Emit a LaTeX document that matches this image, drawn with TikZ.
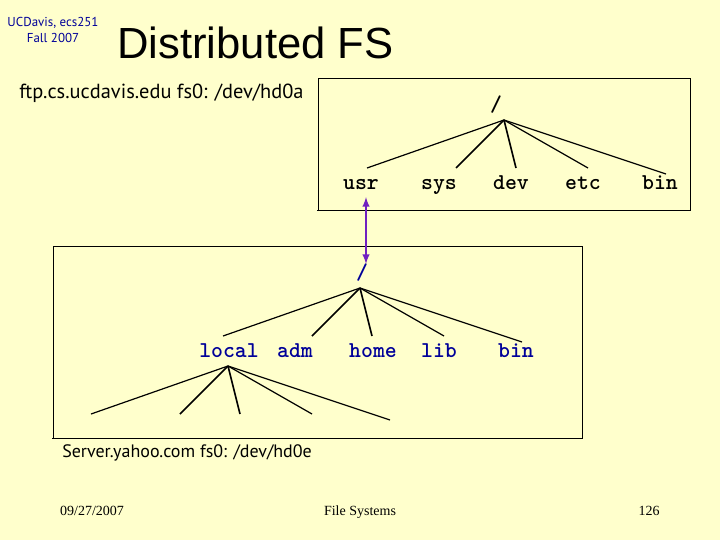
\documentclass[tikz,border=0pt]{standalone}
\usepackage{fontspec}
\setmainfont{Liberation Serif}
\setsansfont{Liberation Sans}
\newfontfamily\handfont{PT Sans}
\definecolor{slidebg}{RGB}{255,255,204}
\definecolor{navy}{RGB}{0,0,153}
\definecolor{linkpurple}{RGB}{112,32,192}
\tikzset{
    label/.style={inner sep=0pt, anchor=base, font=\fontsize{17}{17}\ttfamily\bfseries},
    branch/.style={black, line width=.9pt},
    heavy/.style={black, line width=1.2pt},
    fsbox/.style={black, line width=.6pt},
    footer/.style={inner sep=0pt, anchor=base, font=\fontsize{10.5}{10.5}\selectfont},
}
\begin{document}
\begin{tikzpicture}[>=latex, x=.75pt, y=-.75pt]
    \fill [slidebg] (0,0) rectangle (720,540);
    \useasboundingbox (0,0) rectangle (720,540);
    \node (course) [inner sep=0pt, navy, align=center, font=\fontsize{9.7}{11.5}\handfont] at (53,30) {UCDavis, ecs251\\Fall 2007};
    \node (title) [inner sep=0pt, anchor=west, font=\fontsize{32.7}{32.7}\sffamily] at (117,43) {Distributed FS};
    \node (ftp) [inner sep=0pt, anchor=base west, font=\fontsize{15.3}{15.3}\handfont] at (19,98) {ftp.cs.ucdavis.edu fs0: /dev/hd0a};
    \node (server) [inner sep=0pt, anchor=base west, font=\fontsize{13.5}{13.5}\handfont] at (62,457) {Server.yahoo.com fs0: /dev/hd0e};
    % upper file system
    \draw [fsbox] (318,210) -- (318,78) -- (690,78) -- (690,210) -- (317,210);
    \node (rootA) [label] at (496,111) {/};
    \coordinate (apexA) at (504,120);
    \node (usr) [label] at (361,189) {usr};
    \node (sys) [label] at (439,189) {sys};
    \node (dev) [label] at (511,189) {dev};
    \node (etc) [label] at (583,189) {etc};
    \node (binA) [label] at (660,189) {bin};
    \draw [branch] (apexA) -- (367,168);
    \draw [heavy] (apexA) -- (456,168);
    \draw [heavy] (apexA) -- (516,168);
    \draw [branch] (apexA) -- (588,168);
    \draw [branch] (apexA) -- (666,174);
    % lower file system
    \draw [fsbox] (53,438) -- (53,246) -- (582,246) -- (582,438) -- (52,438);
    \node (rootB) [label, navy] at (362,279) {/};
    \coordinate (apexB) at (360,288);
    \node (local) [label, navy] at (229,357) {local};
    \node (adm) [label, navy] at (295,357) {adm};
    \node (home) [label, navy] at (373,357) {home};
    \node (lib) [label, navy] at (439,357) {lib};
    \node (binB) [label, navy] at (516,357) {bin};
    \draw [branch] (apexB) -- (223,336);
    \draw [heavy] (apexB) -- (312,336);
    \draw [heavy] (apexB) -- (372,336);
    \draw [branch] (apexB) -- (444,336);
    \draw [branch] (apexB) -- (522,342);
    \coordinate (apexC) at (228,366);
    \draw [branch] (apexC) -- (91,414);
    \draw [heavy] (apexC) -- (180,414);
    \draw [heavy] (apexC) -- (240,414);
    \draw [branch] (apexC) -- (312,414);
    \draw [branch] (apexC) -- (390,420);
    % mount link
    \coordinate (linkA) at (366,197);
    \coordinate (linkB) at (366,264);
    \draw [<->, linkpurple, line width=1.5pt] (linkA) -- (linkB);
    \node (date) [footer] at (92,515) {09/27/2007};
    \node (topic) [footer] at (360,515) {File Systems};
    \node (page) [footer] at (649,515) {126};
\end{tikzpicture}
\end{document}
